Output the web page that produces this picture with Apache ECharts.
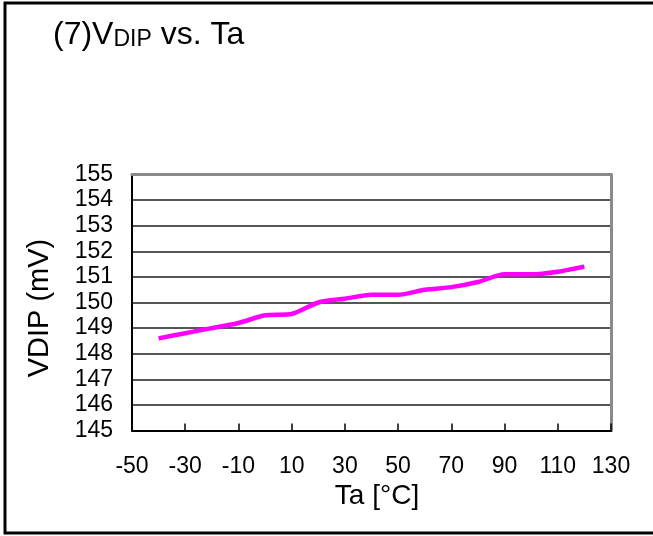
<!DOCTYPE html>
<html>
<head>
<meta charset="utf-8">
<title>VDIP vs. Ta</title>
<script src="https://cdn.jsdelivr.net/npm/echarts@6/dist/echarts.min.js"></script>
<style>
  html, body { margin: 0; padding: 0; background: #fff; }
  #chart { width: 653px; height: 536px; }
</style>
</head>
<body>
<div id="chart"></div>
<script>
// Ambient temperature (°C) and dip voltage (mV)
const temps = [-40, -30, -20, -10, 0, 10, 20, 30, 40, 50, 60, 70, 80, 90, 100, 110, 120];
const vdip = [148.6, 148.8, 149.0, 149.2, 149.5, 149.55, 150.0, 150.15, 150.3, 150.3, 150.5, 150.6, 150.8, 151.1, 151.1, 151.2, 151.4];

// Axis ranges and tick steps
const xRange = [-50, 130];
const xStep = 20;
const yRange = [145, 155];
const yStep = 1;

const xName = 'Ta [°C]';
const yName = 'VDIP (mV)';

const FONT = '"Liberation Sans", Arial, sans-serif';
const chart = echarts.init(document.getElementById('chart'), null, { renderer: 'canvas' });

const points = temps.map((t, i) => [t, vdip[i]]);

chart.setOption({
  animation: false,
  backgroundColor: '#fff',
  title: {
    left: 48,
    top: 10,
    text: '{m|(7)V}{s|DIP}{m| vs. Ta}',
    textStyle: {
      fontFamily: FONT,
      fontWeight: 'normal',
      rich: {
        m: { fontFamily: FONT, fontWeight: 'normal', fontSize: 32, color: '#000', lineHeight: 36, verticalAlign: 'bottom' },
        s: { fontFamily: FONT, fontWeight: 'normal', fontSize: 23, color: '#000', lineHeight: 18, verticalAlign: 'bottom' }
      }
    }
  },
  grid: {
    left: 132, right: 42, top: 174.5, bottom: 105.5,
    containLabel: false, outerBoundsMode: 'none'
  },
  xAxis: [{
    type: 'value',
    min: xRange[0], max: xRange[1], interval: xStep,
    axisLine: { show: true, onZero: false, lineStyle: { color: '#000', width: 2 } },
    axisTick: { show: true, inside: true, length: 7, lineStyle: { color: '#000', width: 1.5 } },
    axisLabel: { margin: 25, fontFamily: FONT, fontSize: 23, color: '#000' },
    splitLine: { show: false }
  }, {
    type: 'value', position: 'top',
    min: xRange[0], max: xRange[1], interval: xStep,
    axisLine: { show: true, onZero: false, lineStyle: { color: '#8a8a8a', width: 3 } },
    axisTick: { show: false }, axisLabel: { show: false }, splitLine: { show: false }
  }],
  yAxis: [{
    type: 'value',
    min: yRange[0], max: yRange[1], interval: yStep,
    axisLine: { show: true, onZero: false, lineStyle: { color: '#000', width: 2 } },
    axisTick: { show: false },
    axisLabel: { margin: 19, fontFamily: FONT, fontSize: 23, color: '#000' },
    splitLine: { show: true, lineStyle: { color: '#1e1e1e', width: 1.6 } }
  }, {
    type: 'value', position: 'right',
    min: yRange[0], max: yRange[1], interval: yStep,
    axisLine: { show: true, onZero: false, lineStyle: { color: '#8a8a8a', width: 3 } },
    axisTick: { show: false }, axisLabel: { show: false }, splitLine: { show: false }
  }],
  graphic: [
    {
      type: 'rect', silent: true, z: 100,
      shape: { x: 5, y: 3, width: 720, height: 530 },
      style: { fill: 'none', stroke: '#000', lineWidth: 3 }
    },
    {
      type: 'text', silent: true,
      x: 377, y: 496,
      style: { text: xName, fontFamily: FONT, fontSize: 28, fill: '#000', align: 'center', verticalAlign: 'middle' }
    },
    {
      type: 'text', silent: true,
      x: 40, y: 308, rotation: Math.PI / 2,
      style: { text: yName, fontFamily: FONT, fontSize: 29, fill: '#000', align: 'center', verticalAlign: 'middle' }
    }
  ],
  series: [{
    type: 'line',
    xAxisIndex: 0, yAxisIndex: 0,
    data: points,
    showSymbol: false,
    smooth: 0.25,
    lineStyle: { color: '#ff00ff', width: 4.5 },
    z: 10
  }]
});
</script>
</body>
</html>
